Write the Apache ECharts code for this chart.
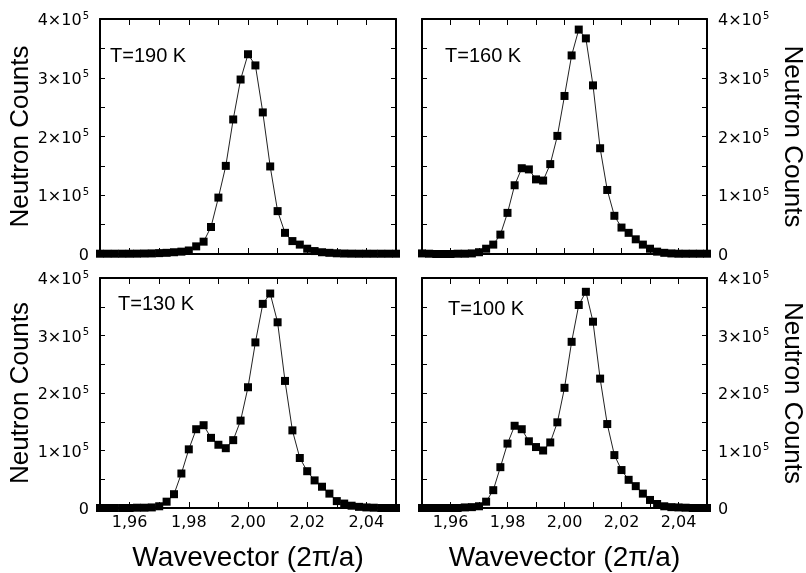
<!DOCTYPE html>
<html>
<head>
<meta charset="utf-8">
<script src="https://cdn.jsdelivr.net/npm/echarts@6/dist/echarts.min.js"></script>
<style>
html,body{margin:0;padding:0;background:#fff;}
#chart{width:806px;height:573px;}
</style>
</head>
<body>
<div id="chart"></div>
<script>
// Wavevector (2π/a) scan points
const wavevector = [1.9500, 1.9525, 1.9550, 1.9575, 1.9600, 1.9625, 1.9650, 1.9675, 1.9700, 1.9725,
  1.9750, 1.9775, 1.9800, 1.9825, 1.9850, 1.9875, 1.9900, 1.9925, 1.9950, 1.9975,
  2.0000, 2.0025, 2.0050, 2.0075, 2.0100, 2.0125, 2.0150, 2.0175, 2.0200, 2.0225,
  2.0250, 2.0275, 2.0300, 2.0325, 2.0350, 2.0375, 2.0400, 2.0425, 2.0450, 2.0475, 2.0500];

// Neutron counts per temperature
const counts190 = [500, 500, 500, 500, 500, 600, 800, 1000, 1500, 2000,
  3000, 4000, 6000, 13000, 21000, 46000, 96000, 150000, 229000, 297000,
  340000, 321000, 241000, 149000, 73000, 36000, 22000, 16000, 9000, 5000,
  3000, 2000, 1200, 800, 600, 500, 500, 500, 500, 500, 500];
const counts160 = [1000, 500, 0, 0, 0, 500, 500, 1000, 3000, 9000,
  16000, 33000, 70000, 117000, 146000, 144000, 127000, 125000, 153000, 201000,
  269000, 338000, 382000, 367000, 287000, 180000, 109000, 65000, 45000, 36000,
  25000, 16000, 9000, 4000, 2000, 1000, 500, 500, 500, 500, 500];
const counts130 = [0, 0, 0, 0, 0, 500, 500, 1000, 3000, 11000,
  24000, 60000, 102000, 137000, 144000, 122000, 110000, 104000, 118000, 152000,
  210000, 288000, 355000, 373000, 323000, 221000, 135000, 87000, 64000, 48000,
  37000, 25000, 12000, 7700, 4000, 2000, 1000, 500, 0, 0, 0];
const counts100 = [0, 0, 0, 0, 0, 0, 1000, 1500, 3000, 11000,
  31000, 71000, 112000, 143000, 137000, 116000, 106000, 100000, 114000, 149000,
  209000, 289000, 353000, 376000, 324000, 225000, 146000, 92000, 66000, 49000,
  38000, 25000, 14000, 7000, 3000, 1500, 1000, 500, 0, 0, 0];

const panelLabels = ['T=190 K', 'T=160 K', 'T=130 K', 'T=100 K'];
const panelCounts = [counts190, counts160, counts130, counts100];

const xTitle = 'Wavevector (2\u03c0/a)';
const yTitle = 'Neutron Counts';

const grids = [
  {left: 100, top: 19, width: 296, height: 235},
  {left: 422, top: 19, width: 293, height: 235},
  {left: 100, top: 278, width: 296, height: 232.5},
  {left: 422, top: 278, width: 293, height: 232.5}
];
const labelPos = [[110, 57.5], [445, 57.5], [118, 305], [448, 310.5]];

const TICK_FONT = 'DejaVu Sans';
const TITLE_FONT = 'Liberation Sans';

function xFmt(v) {
  const c = Math.round(v * 100);
  if (c % 2 !== 0) return '';
  return (c / 100).toFixed(2).replace('.', ',');
}
function yFmt(v) {
  const n = Math.round(v / 50000);
  if (n % 2 !== 0) return '';
  if (n === 0) return '{a|0}';
  return '{a|' + (n / 2) + '\u00d710}{s|5}';
}
const yRich = {
  a: {fontFamily: TICK_FONT, fontSize: 16, color: '#000', lineHeight: 20, verticalAlign: 'bottom'},
  s: {fontFamily: TICK_FONT, fontSize: 10, color: '#000', lineHeight: 20, verticalAlign: 'bottom', padding: [0, 0, 8, 1]}
};

const xAxes = [], yAxes = [], series = [], graphics = [];
grids.forEach((g, i) => {
  const isBottom = i >= 2;
  const isRight = i % 2 === 1;
  const common = {
    type: 'value', gridIndex: i, min: 1.95, max: 2.05, interval: 0.01,
    axisLine: {show: true, onZero: false, lineStyle: {color: '#000', width: 2}},
    axisTick: {show: true, inside: true, length: 6, lineStyle: {color: '#000', width: 1}},
    splitLine: {show: false}
  };
  xAxes.push(Object.assign({}, common, {
    position: 'bottom',
    axisLabel: {show: isBottom, formatter: xFmt, fontFamily: TICK_FONT, fontSize: 16, color: '#000', margin: 7},
    name: isBottom ? xTitle : '',
    nameLocation: 'middle', nameGap: 36,
    nameTextStyle: {fontFamily: TITLE_FONT, fontSize: 28, color: '#000'}
  }));
  xAxes.push(Object.assign({}, common, {position: 'top', axisLabel: {show: false}}));
  const ycommon = {
    type: 'value', gridIndex: i, min: 0, max: 400000, interval: 50000,
    axisLine: {show: true, lineStyle: {color: '#000', width: 2}},
    axisTick: {show: true, inside: true, length: 5, lineStyle: {color: '#000', width: 1}},
    splitLine: {show: false}
  };
  yAxes.push(Object.assign({}, ycommon, {
    position: isRight ? 'right' : 'left',
    axisLabel: {show: true, formatter: yFmt, rich: yRich, margin: 11},
    name: yTitle, nameLocation: 'middle', nameGap: isRight ? 72 : 65,
    nameRotate: isRight ? -90 : 90,
    nameTextStyle: {fontFamily: TITLE_FONT, fontSize: 26, color: '#000'}
  }));
  yAxes.push(Object.assign({}, ycommon, {
    position: isRight ? 'left' : 'right',
    axisLabel: {show: false}
  }));
  series.push({
    type: 'line', xAxisIndex: 2 * i, yAxisIndex: 2 * i,
    data: wavevector.map((x, k) => [x, panelCounts[i][k]]),
    symbol: 'rect', symbolSize: 8, showAllSymbol: true,
    itemStyle: {color: '#000'},
    lineStyle: {color: '#222', width: 1},
    clip: false, animation: false
  });
  graphics.push({
    type: 'text', left: labelPos[i][0], top: labelPos[i][1] - 11,
    style: {text: panelLabels[i], font: '20px "Liberation Sans"', fill: '#000'}
  });
});

const chart = echarts.init(document.getElementById('chart'), null, {renderer: 'canvas'});
chart.setOption({
  animation: false,
  backgroundColor: '#fff',
  grid: grids.map(g => Object.assign({containLabel: false}, g)),
  xAxis: xAxes,
  yAxis: yAxes,
  series: series,
  graphic: graphics
});
</script>
</body>
</html>
